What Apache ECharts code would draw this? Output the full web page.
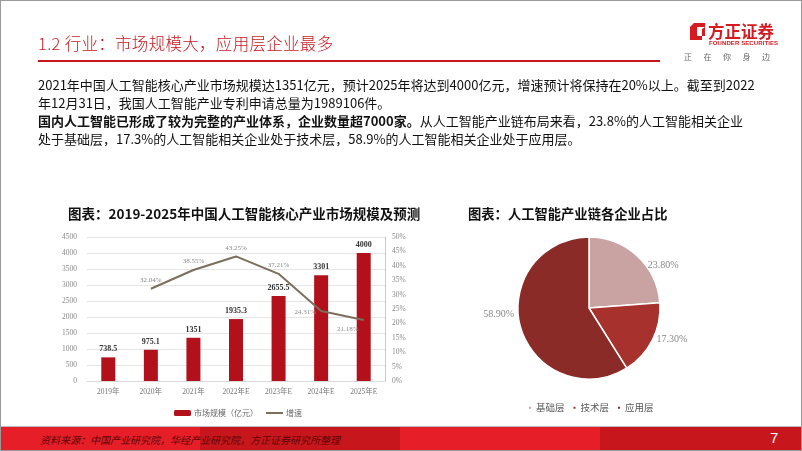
<!DOCTYPE html>
<html>
<head>
<meta charset="utf-8">
<script src="https://cdn.jsdelivr.net/npm/echarts@6/dist/echarts.min.js"></script>
<style>
  body{margin:0;background:#fff;}
  #page{position:relative;width:802px;height:451px;overflow:hidden;background:#fff;font-family:"Noto Sans CJK SC","Noto Sans",sans-serif;}
  .abs{position:absolute;white-space:nowrap;}
  #chart{position:absolute;left:0;top:0;width:802px;height:451px;}
</style>
</head>
<body>
<div id="page">
  <div id="chart"></div>
  <div class="abs" style="left:38px;top:31px;font-size:16.5px;color:#c8161d;letter-spacing:0.3px;font-weight:300;">1.2 行业：市场规模大，应用层企业最多</div>
  <div class="abs" style="left:38px;top:60px;width:622px;height:2px;background:#c8161d;"></div>
  <!-- logo -->
  <svg class="abs" style="left:690px;top:23px;" width="16" height="17" viewBox="0 0 16 17">
    <path d="M4 0 H15 V4 H7 V13 H12 V17 H0 V4 Z" fill="#d71920"/>
    <path d="M15 4 V13 H12 V6 Z" fill="#d71920"/>
  </svg>
  <div class="abs" style="left:708px;top:19px;font-size:16.5px;font-weight:bold;color:#d71920;">方正证券</div>
  <div class="abs" style="left:709px;top:40px;font-size:6px;font-weight:bold;color:#d71920;font-family:'Liberation Sans',sans-serif;letter-spacing:0.1px;">FOUNDER SECURITIES</div>
  <div class="abs" style="left:684px;top:51px;font-size:8px;color:#666;letter-spacing:11.5px;">正在你身边</div>
  <!-- paragraphs -->
  <div class="abs" style="left:38px;top:76px;font-size:13px;color:#111;line-height:18px;">2021年中国人工智能核心产业市场规模达1351亿元，预计2025年将达到4000亿元，增速预计将保持在20%以上。截至到2022</div>
  <div class="abs" style="left:38px;top:94px;font-size:13px;color:#111;line-height:18px;">年12月31日，我国人工智能产业专利申请总量为1989106件。</div>
  <div class="abs" style="left:38px;top:112px;font-size:13px;color:#111;line-height:18px;"><b>国内人工智能已形成了较为完整的产业体系，企业数量超7000家。</b>从人工智能产业链布局来看，23.8%的人工智能相关企业</div>
  <div class="abs" style="left:38px;top:130px;font-size:13px;color:#111;line-height:18px;">处于基础层，17.3%的人工智能相关企业处于技术层，58.9%的人工智能相关企业处于应用层。</div>
  <!-- footer -->
  <div class="abs" style="left:0;top:426px;width:802px;height:1px;background:#bbb;"></div>
  <div class="abs" style="left:0;top:427px;width:200px;height:24px;background:#e61e28;"></div>
  <div class="abs" style="left:200px;top:427px;width:200px;height:24px;background:#c8161d;"></div>
  <div class="abs" style="left:400px;top:427px;width:200px;height:24px;background:#e61e28;"></div>
  <div class="abs" style="left:600px;top:427px;width:202px;height:24px;background:#c8161d;"></div>
  <div class="abs" style="left:40px;top:432px;font-size:10px;font-style:italic;color:#5e0606;">资料来源：中国产业研究院，华经产业研究院，方正证券研究所整理</div>
  <div class="abs" style="left:770px;top:429px;font-size:15px;color:#fff;font-family:'Liberation Sans',sans-serif;">7</div>
  <div class="abs" style="left:0;top:0;width:800px;height:449px;border:1px solid #9a9a9a;pointer-events:none;"></div>
</div>
<script>
// ---- data ----
const years = ['2019年', '2020年', '2021年', '2022年E', '2023年E', '2024年E', '2025年E'];
const marketSize = [738.5, 975.1, 1351, 1935.3, 2655.5, 3301, 4000];
const growthRate = [null, 32.04, 38.55, 43.25, 37.21, 24.31, 21.18];
const pieNames = ['基础层', '技术层', '应用层'];
const pieValues = [23.8, 17.3, 58.9];
const barSeriesName = '市场规模（亿元）';
const lineSeriesName = '增速';

// ---- styles ----
const growthLabelPos = ['top', 'top', 'top', 'top', 'top', 'left', 'left'];
const growthLabelShift = [[0, 0], [0, 0], [0, 0], [0, 0], [0, 0], [0, 1], [0, 9]];
const pieColors = ['#c9a3a1', '#a7312d', '#8a2b28'];
const pieLabelShift = [[0, 15], [-8, -4], [6, -15]];
const lineColor = '#7b6f5c';
const numFont = '"Liberation Serif","Noto Sans CJK SC",serif';
const cjkFont = '"Noto Sans CJK SC",sans-serif';

const chart = echarts.init(document.getElementById('chart'), null, {renderer: 'canvas'});
chart.setOption({
  animation: false,
  backgroundColor: 'transparent',
  title: [
    {text: '图表：2019-2025年中国人工智能核心产业市场规模及预测', left: 63, top: 202,
     textStyle: {fontSize: 13.5, fontWeight: 'bold', color: '#111', fontFamily: cjkFont}},
    {text: '图表：人工智能产业链各企业占比', left: 463, top: 202,
     textStyle: {fontSize: 13.3, fontWeight: 'bold', color: '#111', fontFamily: cjkFont}}
  ],
  legend: [
    {data: [barSeriesName,
            {name: lineSeriesName, icon: 'path://M0,0 L17,0 L17,0.01 Z M0,2 L17,2 L17,4 L0,4 Z M0,6 L17,6 L17,6.01 Z',
             itemStyle: {color: lineColor}}],
     left: 169, top: 404, itemGap: 8, itemWidth: 17, itemHeight: 6,
     textStyle: {fontSize: 8, color: '#666', fontFamily: cjkFont, padding: [0, 0, 0, -2]}},
    {data: pieNames, left: 522, top: 398, itemGap: 7, icon: 'rect',
     itemWidth: 4, itemHeight: 4,
     textStyle: {fontSize: 9.5, color: '#555', fontFamily: cjkFont, padding: [0, 0, 0, -1]}}
  ],
  grid: {left: 87, right: 417, top: 237, bottom: 70, containLabel: false},
  xAxis: {
    type: 'category', data: years,
    axisLine: {lineStyle: {color: '#d9d9d9'}},
    axisTick: {show: false},
    axisLabel: {fontSize: 7.5, color: '#777', fontFamily: numFont, margin: 7}
  },
  yAxis: [
    {type: 'value', min: 0, max: 4500, interval: 500,
     axisLine: {show: false}, axisTick: {show: false},
     splitLine: {lineStyle: {color: '#e4e4e4'}},
     axisLabel: {fontSize: 7.5, color: '#8a8a8a', fontFamily: numFont, margin: 10, formatter: v => String(v)}},
    {type: 'value', min: 0, max: 50, interval: 5,
     axisLine: {show: true, lineStyle: {color: '#d3cba6'}}, axisTick: {show: false},
     splitLine: {show: false},
     axisLabel: {fontSize: 7.5, color: '#8a8a8a', fontFamily: numFont, margin: 7, formatter: v => v + '%'}}
  ],
  series: [
    {name: barSeriesName, type: 'bar', data: marketSize, barWidth: 14,
     itemStyle: {color: '#b2111b'},
     label: {show: true, position: 'top', distance: 4, fontSize: 8, fontWeight: 'bold', color: '#333', fontFamily: numFont}},
    {name: lineSeriesName, type: 'line', yAxisIndex: 1, symbol: 'circle', symbolSize: 0.1, showSymbol: true,
     data: growthRate.map((v, i) => ({value: v, label: {position: growthLabelPos[i], offset: growthLabelShift[i]}})),
     lineStyle: {color: lineColor, width: 2}, itemStyle: {color: lineColor},
     label: {show: true, fontSize: 7, color: '#8a8a8a', fontFamily: numFont, distance: 5,
             formatter: p => p.value == null ? '' : p.value.toFixed(2) + '%'}},
    {name: '占比', type: 'pie', center: [589, 308], radius: 71, startAngle: 90, clockwise: true,
     data: pieNames.map((n, i) => ({name: n, value: pieValues[i]})),
     color: pieColors,
     itemStyle: {borderColor: '#fff', borderWidth: 1.5},
     label: {show: true, position: 'outside', fontSize: 10, color: '#888', fontFamily: numFont,
             formatter: p => p.value.toFixed(2) + '%'},
     labelLine: {show: false, length: 8, length2: 0},
     labelLayout: p => ({dx: pieLabelShift[p.dataIndex][0], dy: pieLabelShift[p.dataIndex][1]})}
  ]
});
</script>
</body>
</html>
